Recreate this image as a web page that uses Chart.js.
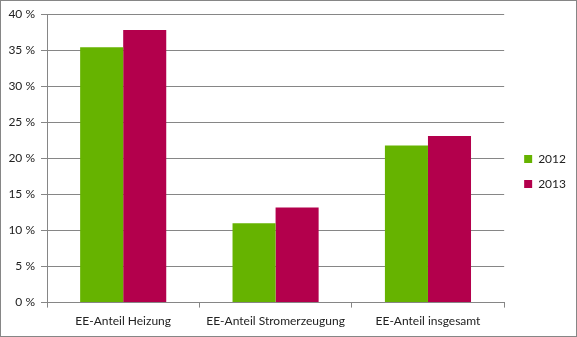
<!DOCTYPE html>
<html>
<head>
<meta charset="utf-8">
<script src="https://cdn.jsdelivr.net/npm/chart.js@4/dist/chart.umd.min.js"></script>
<style>
    html, body { margin: 0; padding: 0; background: #fff; }
    #frame {
        width: 577px; height: 337px;
        box-sizing: border-box;
        border: 1px solid #868686;
        position: relative;
    }
    #chart { display: block; }
</style>
</head>
<body>
<div id="frame"><canvas id="chart" width="575" height="335"></canvas></div>
<script>
// Anteil erneuerbarer Energien je Bereich, Werte in Prozent
const categories = ["EE-Anteil Heizung", "EE-Anteil Stromerzeugung", "EE-Anteil insgesamt"];
const years = ["2012", "2013"];
const values2012 = [35.4, 11.0, 21.8];
const values2013 = [37.8, 13.2, 23.1];
const yTicks = [0, 5, 10, 15, 20, 25, 30, 35, 40];

const GREEN = "#66b300";
const RED = "#b3004c";
const LINE = "#868686";
const FONT = "Lato, 'Open Sans', sans-serif";
const LEGEND_GAP = 7; // extra room between plot area and legend

Chart.defaults.font.family = FONT;
Chart.defaults.font.size = 12;
Chart.defaults.color = "#222";

// widen the legend box without moving its items to the left
const legendGap = {
    id: "legendGap",
    afterInit(chart) {
        const legend = chart.legend;
        if (!legend) return;
        const fit = legend.fit;
        legend.fit = function () {
            fit.call(this);
            this.width += LEGEND_GAP;
        };
        const draw = legend.draw;
        legend.draw = function () {
            const c = this.ctx;
            c.save();
            c.translate(LEGEND_GAP, 0);
            draw.call(this);
            c.restore();
        };
    }
};

const ctx = document.getElementById("chart").getContext("2d");

new Chart(ctx, {
    type: "bar",
    data: {
        labels: categories,
        datasets: [
            { label: years[0], data: values2012, backgroundColor: GREEN },
            { label: years[1], data: values2013, backgroundColor: RED }
        ]
    },
    options: {
        responsive: false,
        animation: false,
        layout: { padding: { top: 8, left: 0, right: 0, bottom: 2 } },
        datasets: {
            bar: { categoryPercentage: 0.565, barPercentage: 1.0, borderWidth: 0 }
        },
        plugins: {
            tooltip: { enabled: false },
            legend: {
                position: "right",
                align: "center",
                labels: {
                    boxWidth: 8,
                    boxHeight: 8,
                    padding: 13,
                    font: { size: 12 }
                }
            }
        },
        scales: {
            x: {
                grid: {
                    offset: true,
                    drawOnChartArea: false,
                    drawTicks: true,
                    tickLength: 5,
                    color: LINE
                },
                border: { color: LINE, width: 1 },
                ticks: { padding: 6, font: { size: 12 } }
            },
            y: {
                min: 0,
                max: 40,
                afterBuildTicks: (scale) => {
                    scale.ticks = yTicks.map(v => ({ value: v }));
                },
                afterFit: (scale) => { scale.width = 46; },
                grid: { color: LINE, tickLength: 6, lineWidth: 1 },
                border: { color: LINE, width: 1 },
                ticks: {
                    padding: 6,
                    font: { size: 12 },
                    callback: (v) => v + " %"
                }
            }
        }
    },
    plugins: [legendGap]
});
</script>
</body>
</html>
